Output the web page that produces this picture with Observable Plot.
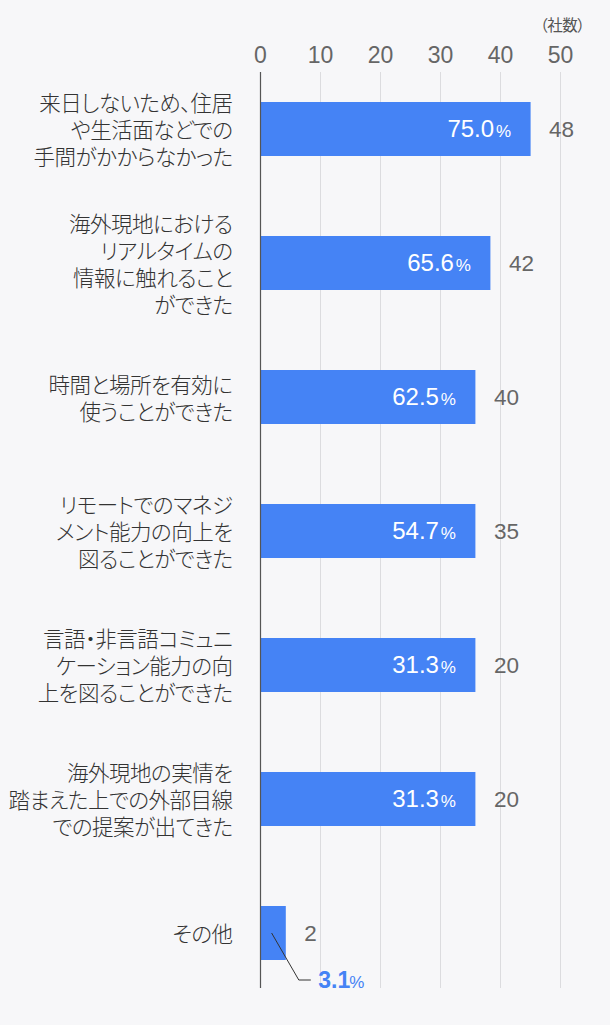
<!DOCTYPE html>
<html>
<head>
<meta charset="utf-8">
<script src="https://cdn.jsdelivr.net/npm/d3@7"></script>
<script src="https://cdn.jsdelivr.net/npm/@observablehq/plot@0.6"></script>
<style>
  html, body { margin: 0; padding: 0; background: #f7f7f9; }
  svg text { font-feature-settings: "palt"; }
  svg g[font-family*="CJK"] text { letter-spacing: -0.5px; }
</style>
</head>
<body>
<div id="chart"></div>
<script>
const categories = [
  "来日しないため、住居や生活面などでの手間がかからなかった",
  "海外現地におけるリアルタイムの情報に触れることができた",
  "時間と場所を有効に使うことができた",
  "リモートでのマネジメント能力の向上を図ることができた",
  "言語・非言語コミュニケーション能力の向上を図ることができた",
  "海外現地の実情を踏まえた上での外部目線での提案が出てきた",
  "その他"
];
const labelLines = [
  "来日しないため、住居\nや生活面などでの\n手間がかからなかった",
  "海外現地における\nリアルタイムの\n情報に触れること\nができた",
  "時間と場所を有効に\n使うことができた",
  "リモートでのマネジ\nメント能力の向上を\n図ることができた",
  "言語・非言語コミュニ\nケーション能力の向\n上を図ることができた",
  "海外現地の実情を\n踏まえた上での外部目線\nでの提案が出てきた",
  "その他"
];
const counts = [48, 42, 40, 35, 20, 20, 2];
const percents = ["75.0", "65.6", "62.5", "54.7", "31.3", "31.3", "3.1"];
// bar lengths as drawn in the reference, read against the axis (社数)
const barLengths = [45.1, 38.4, 35.9, 35.9, 35.9, 35.9, 4.3];
const ticks = [0, 10, 20, 30, 40, 50];
const unitLabel = "（社数）";

const data = categories.map((c, i) => ({
  cat: c, label: labelLines[i], count: counts[i], pct: percents[i],
  len: barLengths[i], inside: barLengths[i] > 10
}));

const blue = "#4583f5";
const numFont = "'Liberation Sans', Arial, Helvetica, sans-serif";
const jpFont = "'Noto Sans CJK JP', 'Noto Sans', sans-serif";

const leader = (index, scales) => {
  const x = scales.x, y = scales.y;
  const bw = scales.scales.y.bandwidth;
  const g = d3.create("svg:g");
  for (const d of data.filter(d => !d.inside)) {
    const x0 = x(0), x1 = x(d.len);
    const cy = y(d.cat) + bw / 2;
    const sx = x0 + (x1 - x0) * 0.45;
    const ex = x1 + 13, ey = cy + 47;
    g.append("path")
      .attr("d", `M${sx},${cy}L${ex},${ey}L${ex + 12},${ey}`)
      .attr("fill", "none").attr("stroke", "#333").attr("stroke-width", 1);
  }
  return g.node();
};

const chart = Plot.plot({
  width: 610,
  height: 1025,
  marginLeft: 260,
  marginRight: 50,
  marginTop: 72,
  marginBottom: 37,
  style: { background: "#f7f7f9", fontFamily: numFont },
  x: { domain: [0, 50], axis: null },
  y: { domain: categories, range: [62, 1000], paddingInner: 0.597, paddingOuter: 0.2985, axis: null },
  marks: [
    Plot.ruleX(ticks.filter(t => t > 0), { stroke: "#dcdcdf", strokeWidth: 1 }),
    Plot.barX(data, { x: "len", y: "cat", fill: blue }),
    Plot.ruleX([0], { stroke: "#555", strokeWidth: 1.2 }),
    Plot.text(ticks, { x: d => d, frameAnchor: "top", lineAnchor: "middle", dy: -17, fontSize: 23, fill: "#666", text: d => String(d) }),
    Plot.text([unitLabel], { frameAnchor: "top-right", lineAnchor: "middle", dx: 24, dy: -46, textAnchor: "end", fontSize: 15.5, fill: "#555", fontFamily: "'Noto Sans CJK JP'" }),
    Plot.text(data, { y: "cat", text: "label", frameAnchor: "left", lineAnchor: "middle", dx: -28, textAnchor: "end", fontSize: 21.5, lineHeight: 1.256, fill: "#333", fontWeight: 300, fontFamily: jpFont }),
    Plot.text(data.filter(d => d.inside), { x: "len", y: "cat", text: "pct", dx: -37, textAnchor: "end", fill: "white", fontSize: 24 }),
    Plot.text(data.filter(d => d.inside), { x: "len", y: "cat", text: () => "%", dx: -20, dy: 2.5, textAnchor: "end", fill: "white", fontSize: 17 }),
    Plot.text(data, { x: "len", y: "cat", text: d => String(d.count), dx: 18, textAnchor: "start", fill: "#666", fontSize: 22.5 }),
    leader,
    Plot.text(data.filter(d => !d.inside), { x: "len", y: "cat", text: "pct", dx: 32, dy: 47, textAnchor: "start", fill: blue, fontSize: 23, fontWeight: "bold" }),
    Plot.text(data.filter(d => !d.inside), { x: "len", y: "cat", text: () => "%", dx: 63, dy: 49.5, textAnchor: "start", fill: blue, fontSize: 17 })
  ]
});
document.getElementById("chart").appendChild(chart);
</script>
</body>
</html>
